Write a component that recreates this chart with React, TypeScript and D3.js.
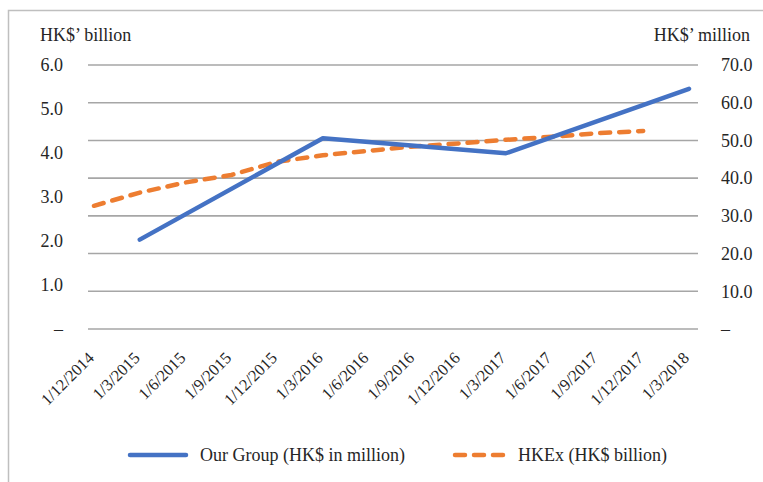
import React from 'react';
import * as d3 from 'd3';

const categories = [
  '1/12/2014', '1/3/2015', '1/6/2015', '1/9/2015', '1/12/2015', '1/3/2016', '1/6/2016',
  '1/9/2016', '1/12/2016', '1/3/2017', '1/6/2017', '1/9/2017', '1/12/2017', '1/3/2018',
];

// Our Group, HK$ million (right axis), annual points only
const groupValues: (number | null)[] = [
  null, 23.7, null, null, null, 50.6, null, null, null, 46.6, null, null, null, 63.7,
];

// HKEx, HK$ billion (left axis)
const hkexValues: (number | null)[] = [
  2.8, 3.1, 3.33, 3.5, 3.8, 3.95, 4.05, 4.15, 4.22, 4.3, 4.37, 4.45, 4.5, null,
];

const leftTicks = [0, 1, 2, 3, 4, 5, 6];
const rightTicks = [0, 10, 20, 30, 40, 50, 60, 70];

const W = 763;
const H = 482;
const FONT = '"Liberation Serif", "Times New Roman", serif';
const BLUE = '#4472C4';
const ORANGE = '#ED7D31';

const fmt = (v: number) => (v === 0 ? '–' : v.toFixed(1));

export default function App() {
  const x = d3.scalePoint<string>().domain(categories).range([94, 689]);
  const yL = d3.scaleLinear().domain([0, 6]).range([329, 65]);
  const yR = d3.scaleLinear().domain([0, 70]).range([329, 65]);

  const groupPts = categories
    .map((c, i) => [c, groupValues[i]] as [string, number | null])
    .filter((d) => d[1] != null) as [string, number][];
  const hkexPts = categories
    .map((c, i) => [c, hkexValues[i]] as [string, number | null])
    .filter((d) => d[1] != null) as [string, number][];

  const groupLine = d3.line<[string, number]>()
    .x((d) => x(d[0])!)
    .y((d) => yR(d[1]));
  const hkexLine = d3.line<[string, number]>()
    .x((d) => x(d[0])!)
    .y((d) => yL(d[1]));

  return (
    <svg width={W} height={H} style={{ position: 'absolute', left: 0, top: 0, background: '#fff' }}
      fontFamily={FONT}>
      <rect x={8.5} y={10.5} width={W + 20} height={H + 20} fill="#fff" stroke="#BFBFBF" strokeWidth={1.5} />

      {rightTicks.map((t) => (
        <line key={t} x1={88} x2={698} y1={yR(t)} y2={yR(t)} stroke="#A6A6A6" strokeWidth={1.6} />
      ))}

      {leftTicks.map((t) => (
        <text key={t} x={63} y={yL(t)} dy="0.35em" textAnchor="end" fontSize={18} fill="#262626">
          {fmt(t)}
        </text>
      ))}
      {rightTicks.map((t) => (
        <text key={t} x={721} y={yR(t)} dy="0.35em" textAnchor="start" fontSize={18} fill="#262626">
          {fmt(t)}
        </text>
      ))}

      <text x={40} y={41} fontSize={18} fill="#262626">HK$’ billion</text>
      <text x={750} y={41} fontSize={18} fill="#262626" textAnchor="end">HK$’ million</text>

      {categories.map((c) => (
        <text key={c} transform={`translate(${x(c)! + 1},${359}) rotate(-45)`} textAnchor="end"
          fontSize={16.5} fill="#262626">
          {c}
        </text>
      ))}

      <path d={hkexLine(hkexPts)!} fill="none" stroke={ORANGE} strokeWidth={4.5}
        strokeDasharray="10 9" strokeLinecap="round" strokeLinejoin="round" />
      <path d={groupLine(groupPts)!} fill="none" stroke={BLUE} strokeWidth={4.5}
        strokeLinecap="round" strokeLinejoin="round" />

      <line x1={130} x2={186} y1={455} y2={455} stroke={BLUE} strokeWidth={4.5} strokeLinecap="round" />
      <text x={200} y={455} dy="0.35em" fontSize={18} fill="#262626">Our Group (HK$ in million)</text>
      <line x1={455} x2={506} y1={455} y2={455} stroke={ORANGE} strokeWidth={4.5}
        strokeDasharray="10 9" strokeLinecap="round" />
      <text x={518} y={455} dy="0.35em" fontSize={18} fill="#262626">HKEx (HK$ billion)</text>
    </svg>
  );
}
